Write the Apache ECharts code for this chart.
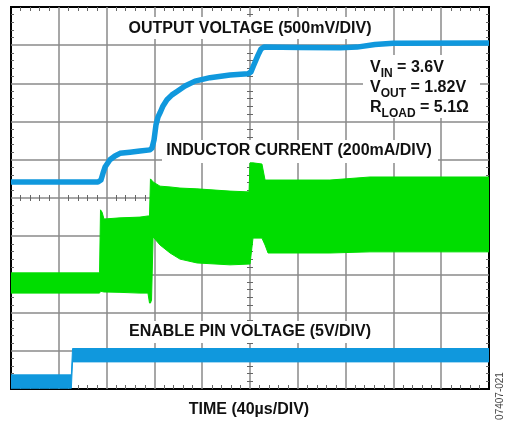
<!DOCTYPE html>
<html>
<head>
<meta charset="utf-8">
<script src="https://cdn.jsdelivr.net/npm/echarts@6/dist/echarts.min.js"></script>
<style>
html,body{margin:0;padding:0;background:#fff;}
#chart{width:506px;height:421px;}
</style>
</head>
<body>
<div id="chart"></div>
<script>
// Time axis: microseconds relative to screen centre (40 µs/div, 10 divs)
const timeTicks = [-200,-160,-120,-80,-40,0,40,80,120,160,200];
// Vertical axis in divisions relative to screen centre (10 divs)
const divTicks = [-5,-4,-3,-2,-1,0,1,2,3,4,5];

// OUTPUT VOLTAGE trace (500mV/div), in divisions
const outTime = [-200,-127.2,-124.7,-123.0,-121.3,-117.2,-113.0,-108.8,-100.4,-92.1,-83.7,-82.0,-80.3,-78.7,-77.0,-75.3,-72.8,-69.5,-65.3,-61.1,-54.4,-46.0,-33.5,-16.7,-1.7,0.8,2.5,6.7,9.2,11.7,41.8,75.3,89.5,104.6,119.7,200];
const outVolt = [0.42,0.42,0.47,0.65,0.81,1.00,1.10,1.17,1.20,1.23,1.26,1.31,1.52,1.91,2.12,2.23,2.41,2.57,2.70,2.79,2.93,3.06,3.15,3.22,3.25,3.30,3.43,3.74,3.90,3.95,3.94,3.93,3.95,4.02,4.05,4.06];

// INDUCTOR CURRENT ripple envelope (200mA/div), in divisions
const greenTime = [-200,-125.9,-125.1,-123.8,-122.2,-108.8,-92.1,-85.4,-84.1,-83.3,-82.4,-81.1,-75.3,-66.9,-58.6,-44.4,-16.7,-0.8,0,2.5,10.0,12.6,15.1,66.9,100.4,200];
const greenTop = [-1.96,-1.96,-0.31,-0.37,-0.55,-0.52,-0.50,-0.47,-0.47,0.50,0.47,0.42,0.31,0.29,0.26,0.24,0.18,0.16,0.92,0.92,0.89,0.47,0.47,0.47,0.55,0.55];
const greenBottom = [-2.49,-2.49,-2.44,-2.45,-2.46,-2.47,-2.49,-2.49,-2.75,-2.75,-2.67,-1.02,-1.23,-1.44,-1.60,-1.70,-1.75,-1.73,-1.73,-1.05,-1.05,-1.23,-1.44,-1.44,-1.41,-1.41];

// ENABLE PIN VOLTAGE envelope (5V/div), in divisions
const enableTime = [-200,-149.5,-148.5,200];
const enableTop = [-4.63,-4.63,-3.94,-3.94];
const enableBottom = [-4.98,-4.98,-4.29,-4.29];

const BLUE = '#1098dd';
const GREEN = '#00dd00';
const GRIDC = '#8a8a8a';
const TICKC = '#666666';
const FONT = '"Liberation Sans", Arial, sans-serif';
const TFONT = 'bold 16px ' + FONT;

function xAxisDef(position, extra) {
  return Object.assign({
    type: 'value', min: timeTicks[0], max: timeTicks[timeTicks.length - 1], interval: 40,
    position: position,
    axisLine: { show: false, onZero: false },
    axisLabel: { show: false },
    axisTick: { show: false, inside: true },
    minorTick: { show: true, splitNumber: 5, length: 4, lineStyle: { color: TICKC, width: 1 } },
    splitLine: { show: false }
  }, extra);
}
function yAxisDef(position, extra) {
  return Object.assign({
    type: 'value', min: divTicks[0], max: divTicks[divTicks.length - 1], interval: 1,
    position: position,
    axisLine: { show: false, onZero: false },
    axisLabel: { show: false },
    axisTick: { show: false, inside: true },
    minorTick: { show: true, splitNumber: 5, length: 3, lineStyle: { color: TICKC, width: 1 } },
    splitLine: { show: false }
  }, extra);
}

function band(times, tops, bottoms, color, z) {
  return {
    type: 'custom', coordinateSystem: 'cartesian2d', xAxisIndex: 0, yAxisIndex: 0,
    clip: true, silent: true, z: z,
    data: [[times[0], tops[0]]],
    encode: { x: 0, y: 1 },
    renderItem: function (params, api) {
      const pts = [];
      for (let i = 0; i < times.length; i++) pts.push(api.coord([times[i], tops[i]]));
      for (let i = times.length - 1; i >= 0; i--) pts.push(api.coord([times[i], bottoms[i]]));
      return { type: 'polygon', shape: { points: pts }, style: { fill: color, stroke: color, lineWidth: 1 } };
    }
  };
}

const chart = echarts.init(document.getElementById('chart'), null, { renderer: 'canvas' });
chart.setOption({
  animation: false,
  backgroundColor: '#fff',
  grid: { left: 11, top: 7, width: 478, height: 382, show: true, borderColor: '#000', borderWidth: 2, backgroundColor: 'transparent', containLabel: false, outerBoundsMode: 'none' },
  xAxis: [
    xAxisDef('bottom', { splitLine: { show: true, showMinLine: false, showMaxLine: false, lineStyle: { color: GRIDC, width: 1.5 } } }),
    xAxisDef('top', {}),
    xAxisDef('bottom', { axisLine: { show: false, onZero: true, onZeroAxisIndex: 0 }, axisTick: { show: false, inside: true }, minorTick: { show: true, splitNumber: 5, length: 3, lineStyle: { color: TICKC, width: 1 } } }),
    xAxisDef('bottom', { axisLine: { show: false, onZero: true, onZeroAxisIndex: 0 }, axisTick: { show: false, inside: false }, minorTick: { show: true, splitNumber: 5, length: 3, lineStyle: { color: TICKC, width: 1 } } })
  ],
  yAxis: [
    yAxisDef('left', { splitLine: { show: true, showMinLine: false, showMaxLine: false, lineStyle: { color: GRIDC, width: 1.5 } } }),
    yAxisDef('right', {}),
    yAxisDef('left', { axisLine: { show: false, onZero: true, onZeroAxisIndex: 0 }, axisTick: { show: false, inside: true } }),
    yAxisDef('left', { axisLine: { show: false, onZero: true, onZeroAxisIndex: 0 }, axisTick: { show: false, inside: false } })
  ],
  graphic: [
    { type: 'rect', z: 1, shape: { x: 121, y: 17, width: 258, height: 22 }, style: { fill: '#fff' } },
    { type: 'rect', z: 1, shape: { x: 162, y: 140, width: 276, height: 23 }, style: { fill: '#fff' } },
    { type: 'rect', z: 1, shape: { x: 363, y: 55, width: 117, height: 63 }, style: { fill: '#fff' } },
    { type: 'rect', z: 1, shape: { x: 121, y: 321, width: 258, height: 22 }, style: { fill: '#fff' } },
    { type: 'text', z: 5, x: 250, y: 28.5, style: { text: 'OUTPUT VOLTAGE (500mV/DIV)', font: TFONT, fill: '#111', align: 'center', verticalAlign: 'middle' } },
    { type: 'text', z: 5, x: 299, y: 151, style: { text: 'INDUCTOR CURRENT (200mA/DIV)', font: TFONT, fill: '#111', align: 'center', verticalAlign: 'middle' } },
    { type: 'text', z: 5, x: 250, y: 332, style: { text: 'ENABLE PIN VOLTAGE (5V/DIV)', font: TFONT, fill: '#111', align: 'center', verticalAlign: 'middle' } },
    { type: 'text', z: 5, x: 249, y: 410, style: { text: 'TIME (40\u00b5s/DIV)', font: TFONT, fill: '#111', align: 'center', verticalAlign: 'middle' } },
    { type: 'text', z: 5, x: 370, y: 60, style: {
        text: '{m|V}{s|IN}{m| = 3.6V}\n{m|V}{s|OUT}{m| = 1.82V}\n{m|R}{s|LOAD}{m| = 5.1\u03a9}',
        align: 'left', verticalAlign: 'top', fill: '#111',
        rich: {
          m: { font: TFONT, lineHeight: 20, verticalAlign: 'top', fill: '#111' },
          s: { font: 'bold 12px ' + FONT, lineHeight: 12, padding: [8, 0, 0, 0], verticalAlign: 'top', fill: '#111' }
        }
      } },
    { type: 'text', z: 5, x: 500, y: 396, rotation: Math.PI / 2, style: { text: '07407-021', font: '10px ' + FONT, fill: '#444', align: 'center', verticalAlign: 'middle' } }
  ],
  series: [
    band(greenTime, greenTop, greenBottom, GREEN, 3),
    band(enableTime, enableTop, enableBottom, BLUE, 3),
    {
      type: 'line', xAxisIndex: 0, yAxisIndex: 0, z: 4, silent: true, clip: true,
      data: outTime.map(function (t, i) { return [t, outVolt[i]]; }),
      symbol: 'none', showSymbol: false,
      lineStyle: { color: BLUE, width: 5.5, cap: 'butt', join: 'round' }
    }
  ]
});
</script>
</body>
</html>
